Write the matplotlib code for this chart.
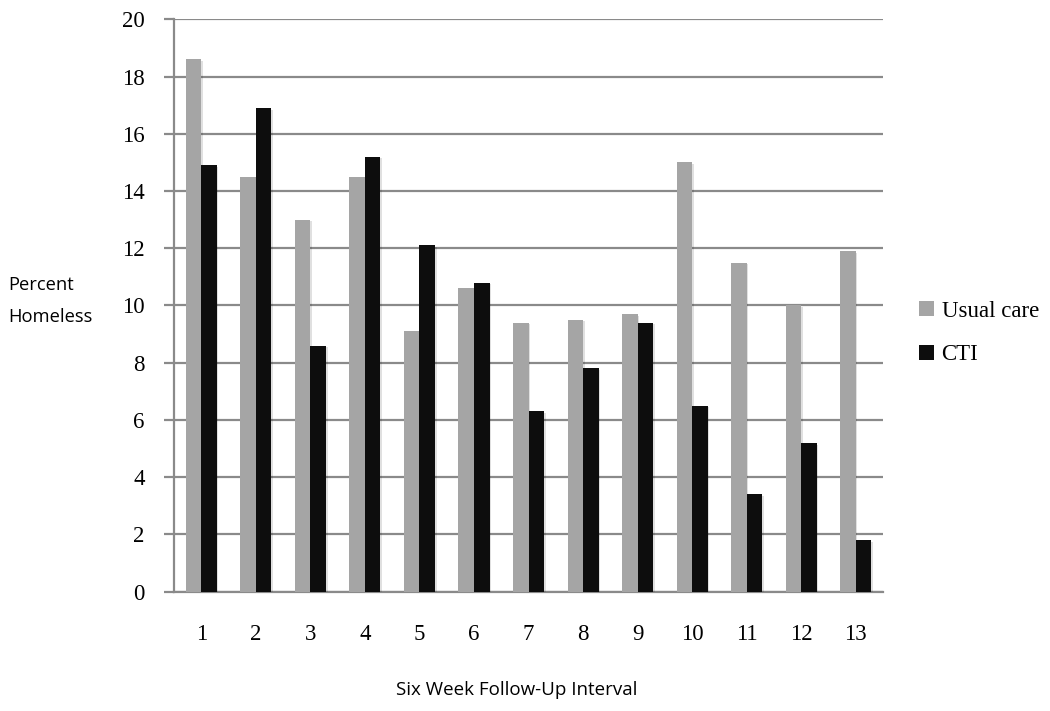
import numpy as np
import matplotlib
matplotlib.use("Agg")
import matplotlib.pyplot as plt
import matplotlib.patheffects as pe
from matplotlib.patches import Patch

# data
intervals = [str(i) for i in range(1, 14)]
usual_care = [18.6, 14.5, 13.0, 14.5, 9.1, 10.6, 9.4, 9.5, 9.7, 15.0, 11.5, 10.0, 11.9]
cti = [14.9, 16.9, 8.6, 15.2, 12.1, 10.8, 6.3, 7.8, 9.4, 6.5, 3.4, 5.2, 1.8]
y_ticks = [0, 2, 4, 6, 8, 10, 12, 14, 16, 18, 20]

GRAY = "#a5a5a5"
BLACK = "#0d0d0d"
GRID = "#8a8a8a"
SERIF = ["Liberation Serif", "DejaVu Serif"]
SANS = ["Open Sans", "DejaVu Sans"]

fig = plt.figure(figsize=(10.5, 7.11), dpi=100)
ax = fig.add_axes([0.1657, 0.1678, 0.6753, 0.8051])

x = np.arange(len(intervals))
w = 0.285
shadow = [pe.SimplePatchShadow(offset=(1.2, -1.2), alpha=0.12, shadow_rgbFace="black"), pe.Normal()]
b1 = ax.bar(x - w / 2, usual_care, width=w, color=GRAY, zorder=3)
b2 = ax.bar(x + w / 2, cti, width=w, color=BLACK, zorder=3)
for b in list(b1) + list(b2):
    b.set_path_effects(shadow)

ax.set_xlim(-0.5, len(intervals) - 0.5)
ax.set_ylim(0, 20)
ax.set_yticks(y_ticks)
ax.set_yticklabels([str(v) for v in y_ticks], fontsize=16.5, family=SERIF)
ax.set_xticks(x)
ax.set_xticklabels(intervals, fontsize=16.5, family=SERIF)

ax.grid(axis="y", color=GRID, linewidth=1.6, zorder=0)
ax.set_axisbelow(True)
for s in ["top", "right"]:
    ax.spines[s].set_visible(False)
for s in ["left", "bottom"]:
    ax.spines[s].set_color(GRID)
    ax.spines[s].set_linewidth(1.6)
ax.tick_params(axis="y", length=7, width=1.6, color=GRID, pad=14)
ax.tick_params(axis="x", length=0, pad=23)

fig.text(8 / 1050, 1 - 301 / 711, "Percent\nHomeless", fontsize=13.2, family=SANS,
         ha="left", va="center", linespacing=1.95)
fig.text(517 / 1050, 1 - 690 / 711, "Six Week Follow-Up Interval", fontsize=13.5,
         family=SANS, ha="center", va="center")

handles = [Patch(facecolor=GRAY, label="Usual care"), Patch(facecolor=BLACK, label="CTI")]
fig.legend(handles=handles, loc="center left", bbox_to_anchor=(898 / 1050, 1 - 333 / 711),
           frameon=False, prop={"family": SERIF, "size": 16.5}, handlelength=0.65,
           handleheight=0.65, handletextpad=0.35, labelspacing=1.0)

fig.savefig("out.png", dpi=100)
